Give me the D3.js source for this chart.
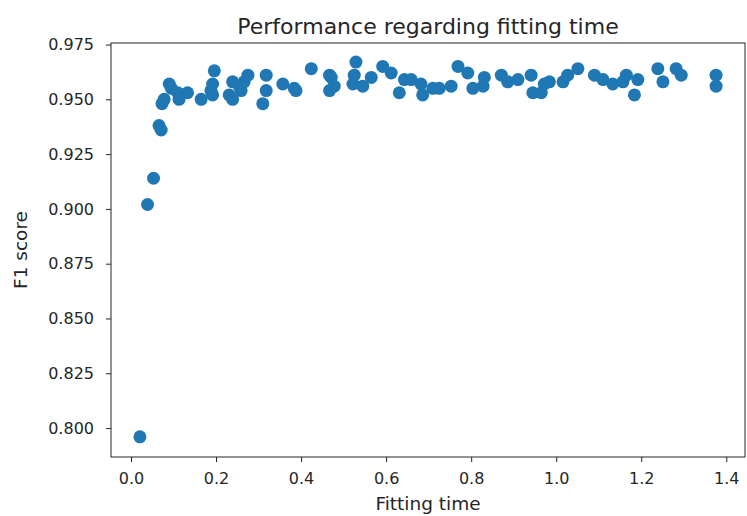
<!DOCTYPE html>
<html>
<head>
<meta charset="utf-8">
<script src="https://cdn.jsdelivr.net/npm/d3@7"></script>
<style>
  body { margin: 0; background: #fff; }
  text { font-family: "DejaVu Sans", sans-serif; fill: #262626; }
</style>
</head>
<body>
<svg width="747" height="516"></svg>
<script>
// fitting time (s) and F1 score per model
const fitTime = [
  0.021, 0.039, 0.053, 0.066, 0.071, 0.073, 0.078, 0.090, 0.095, 0.110,
  0.113, 0.133, 0.165, 0.188, 0.192, 0.196, 0.192, 0.231, 0.239, 0.239,
  0.255, 0.259, 0.266, 0.275, 0.310, 0.318, 0.318, 0.357, 0.384, 0.388,
  0.424, 0.467, 0.467, 0.471, 0.478, 0.522, 0.525, 0.529, 0.545, 0.565,
  0.592, 0.612, 0.631, 0.643, 0.659, 0.682, 0.686, 0.710, 0.725, 0.753,
  0.769, 0.792, 0.804, 0.828, 0.831, 0.871, 0.886, 0.910, 0.941, 0.945,
  0.965, 0.972, 0.984, 1.016, 1.027, 1.051, 1.090, 1.110, 1.133, 1.157,
  1.165, 1.184, 1.192, 1.239, 1.251, 1.282, 1.294, 1.376, 1.376
];
const f1Score = [
  0.796, 0.902, 0.914, 0.938, 0.936, 0.948, 0.950, 0.957, 0.955, 0.953,
  0.950, 0.953, 0.950, 0.954, 0.957, 0.963, 0.952, 0.952, 0.950, 0.958,
  0.956, 0.954, 0.958, 0.961, 0.948, 0.954, 0.961, 0.957, 0.955, 0.954,
  0.964, 0.961, 0.954, 0.960, 0.956, 0.957, 0.961, 0.967, 0.956, 0.960,
  0.965, 0.962, 0.953, 0.959, 0.959, 0.957, 0.952, 0.955, 0.955, 0.956,
  0.965, 0.962, 0.955, 0.956, 0.960, 0.961, 0.958, 0.959, 0.961, 0.953,
  0.953, 0.957, 0.958, 0.958, 0.961, 0.964, 0.961, 0.959, 0.957, 0.958,
  0.961, 0.952, 0.959, 0.964, 0.958, 0.964, 0.961, 0.961, 0.956
];
const xTicks = [0.0, 0.2, 0.4, 0.6, 0.8, 1.0, 1.2, 1.4];
const yTicks = [0.800, 0.825, 0.850, 0.875, 0.900, 0.925, 0.950, 0.975];

const points = fitTime.map((t, i) => ({ t: t, f1: f1Score[i] }));

const margin = { top: 43, right: 2, bottom: 59, left: 111 };
const svg = d3.select("svg");
const width = +svg.attr("width") - margin.left - margin.right;
const height = +svg.attr("height") - margin.top - margin.bottom;

const x = d3.scaleLinear().domain([-0.047, 1.444]).range([0, width]);
const y = d3.scaleLinear().domain([0.7868, 0.9757]).range([height, 0]);

const g = svg.append("g")
  .attr("transform", `translate(${margin.left},${margin.top})`);

g.selectAll("circle.pt")
  .data(points)
  .enter()
  .append("circle")
  .attr("class", "pt")
  .attr("cx", (d) => x(d.t))
  .attr("cy", (d) => y(d.f1))
  .attr("r", 6.5)
  .attr("fill", "#1f77b4");

const xAxis = g.append("g")
  .attr("transform", `translate(0,${height})`)
  .call(d3.axisBottom(x).tickValues(xTicks).tickFormat(d3.format(".1f")).tickSize(5).tickPadding(11));
const yAxis = g.append("g")
  .call(d3.axisLeft(y).tickValues(yTicks).tickFormat(d3.format(".3f")).tickSize(5).tickPadding(12));

[xAxis, yAxis].forEach((ax) => {
  ax.select(".domain").remove();
  ax.selectAll("line").attr("stroke", "#262626");
  ax.selectAll("text").attr("font-size", 16).attr("font-family", "DejaVu Sans").attr("fill", "#333");
});

g.append("rect")
  .attr("width", width)
  .attr("height", height)
  .attr("fill", "none")
  .attr("stroke", "#262626")
  .attr("stroke-width", 1);

g.append("text")
  .attr("x", width / 2)
  .attr("y", -9)
  .attr("text-anchor", "middle")
  .attr("font-size", 22)
  .attr("fill", "#333")
  .text("Performance regarding fitting time");

g.append("text")
  .attr("x", width / 2)
  .attr("y", height + 53)
  .attr("text-anchor", "middle")
  .attr("font-size", 18.5)
  .attr("fill", "#333")
  .text("Fitting time");

g.append("text")
  .attr("transform", `translate(${-84},${height / 2}) rotate(-90)`)
  .attr("text-anchor", "middle")
  .attr("font-size", 18.5)
  .attr("fill", "#333")
  .text("F1 score");
</script>
</body>
</html>
